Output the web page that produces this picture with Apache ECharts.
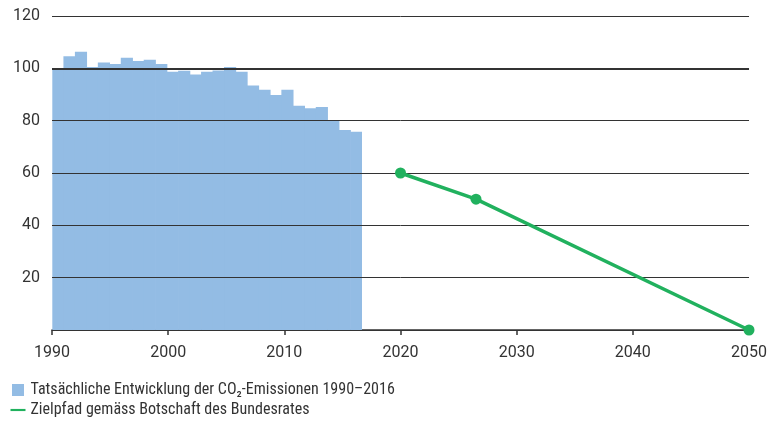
<!DOCTYPE html>
<html>
<head>
<meta charset="utf-8">
<script src="https://cdn.jsdelivr.net/npm/echarts@6/dist/echarts.min.js"></script>
<style>
  html, body { margin: 0; padding: 0; background: #fff; }
  #chart { width: 770px; height: 421px; }
</style>
</head>
<body>
<div id="chart"></div>
<script>
// Tatsächliche Emissionen (Index 1990 = 100)
const years = ['1990','1991','1992','1993','1994','1995','1996','1997','1998','1999',
  '2000','2001','2002','2003','2004','2005','2006','2007','2008','2009',
  '2010','2011','2012','2013','2014','2015','2016']
const emissions = [100, 104.6, 106.3, 100.5, 102.2, 101.7, 104, 102.8, 103.3, 101.7,
  98.7, 99.1, 97.6, 98.7, 99.2, 100.5, 98.7, 93.4, 91.8, 89.8,
  91.8, 85.7, 84.7, 85.2, 80.1, 76.4, 75.8]
// Zielpfad
const targetYears = [2020, 2026.5, 2050]
const targetValues = [60, 50, 0]

const barName = 'Tatsächliche Entwicklung der CO₂-Emissionen 1990–2016'
const lineName = 'Zielpfad gemäss Botschaft des Bundesrates'

const chart = echarts.init(document.getElementById('chart'))

const option = {
  animation: false,
  textStyle: { fontFamily: 'Roboto, sans-serif' },
  grid: [
    { left: 52, top: 16, width: 699, height: 314 },
    // eigenes Raster fuer die Balken (1990 bis Ende 2016)
    { left: 52.3, top: 16, width: 309.7, height: 314 }
  ],
  xAxis: [
    {
      type: 'value', gridIndex: 0, min: 1990, max: 2050, interval: 10,
      axisLine: { show: true, lineStyle: { color: '#333', width: 1.5 } },
      axisTick: { show: true, length: 5, lineStyle: { color: '#333', width: 1.5 } },
      axisLabel: { color: '#333', fontSize: 16, margin: 15, formatter: v => String(v) },
      splitLine: { show: false }
    },
    {
      type: 'category', gridIndex: 1, data: years, show: false
    }
  ],
  yAxis: [
    {
      type: 'value', gridIndex: 0, min: 0, max: 120, interval: 20, z: 3,
      axisLine: { show: false },
      axisTick: { show: false },
      axisLabel: { color: '#333', fontSize: 16, margin: 12, formatter: v => v === 0 ? '' : String(v) },
      splitLine: { lineStyle: { color: '#333', width: 1 } }
    },
    {
      type: 'value', gridIndex: 1, min: 0, max: 120, show: false
    }
  ],
  legend: {
    orient: 'vertical', left: 10.5, top: 381, padding: 0, height: 40,
    itemWidth: 15, itemHeight: 12, itemGap: 2,
    textStyle: { fontFamily: '"Liberation Sans Narrow", "Roboto Condensed", Roboto, sans-serif', fontSize: 16, color: '#333', lineHeight: 18 },
    data: [
      { name: barName, icon: 'path://M0,0H12V12H0Z' },
      { name: lineName, icon: 'path://M0,0H14V2H0Z' }
    ]
  },
  series: [
    {
      name: barName, type: 'bar', xAxisIndex: 1, yAxisIndex: 1, z: 1,
      barWidth: '106%',
      itemStyle: { color: '#93bce4' },
      data: emissions
    },
    {
      name: lineName, type: 'line', xAxisIndex: 0, yAxisIndex: 0, z: 5,
      data: targetYears.map((y, i) => [y, targetValues[i]]),
      symbol: 'circle', symbolSize: 11,
      lineStyle: { color: '#21b15e', width: 3.5 },
      itemStyle: { color: '#21b15e' },
      markLine: {
        silent: true, symbol: 'none', label: { show: false }, z: 3,
        lineStyle: { color: '#333', width: 2, type: 'solid' },
        data: [{ yAxis: 100 }]
      }
    }
  ]
}

chart.setOption(option)
window.addEventListener('resize', () => chart.resize())
</script>
</body>
</html>
